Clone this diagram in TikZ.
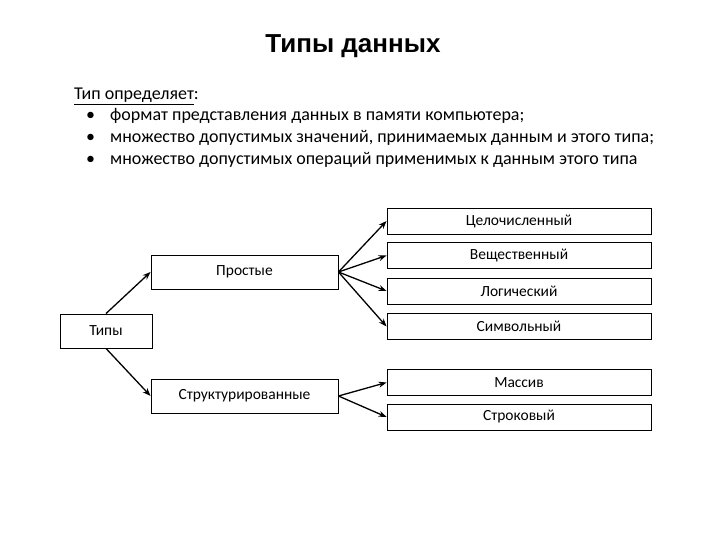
\documentclass[tikz,border=0pt]{standalone}
\usepackage{fontspec}
\setmainfont{Carlito}
\newfontfamily\titlefont{Liberation Sans}
\usetikzlibrary{arrows.meta}
\begin{document}
\begin{tikzpicture}[x=1pt,y=-1pt,
  box/.style={draw,line width=0.9pt,inner sep=0pt,font=\fontsize{15.5}{18}\selectfont},
  conn/.style={line width=1.3pt,-{Stealth[length=8pt,width=6pt]}},
  txt/.style={anchor=base west,inner sep=0pt,font=\fontsize{18}{21}\selectfont}]
\useasboundingbox (0,0) rectangle (720,540);
\node[inner sep=0pt,font=\titlefont\bfseries\fontsize{26}{30}\selectfont] (title) at (353,46) {Типы данных};
\node[txt] (l0) at (74,100) {\underline{Тип определяет}:};
\node[txt] (b1) at (86,121) {•};
\node[txt] (l1) at (110,121) {формат представления данных в памяти компьютера;};
\node[txt] (b2) at (86,143) {•};
\node[txt] (l2) at (110,143) {множество допустимых значений, принимаемых данным и этого типа;};
\node[txt] (b3) at (86,165) {•};
\node[txt] (l3) at (110,165) {множество допустимых операций применимых к данным этого типа};
% boxes
\node[box,minimum width=92pt,minimum height=34pt] (tipy) at (106,331) {Типы};
\node[box,minimum width=187pt,minimum height=34pt] (prost) at (244.5,272) {Простые};
\node[box,minimum width=187pt,minimum height=34pt] (struct) at (244.5,396) {Структурированные};
\node[box,minimum width=264pt,minimum height=26pt] (cel) at (519,221) {Целочисленный};
\node[box,minimum width=264pt,minimum height=26pt] (vesh) at (519,255.5) {Вещественный};
\node[box,minimum width=264pt,minimum height=26pt] (log) at (519,291) {Логический};
\node[box,minimum width=264pt,minimum height=26pt] (sim) at (519,326.5) {Символьный};
\node[box,minimum width=264pt,minimum height=26pt] (mas) at (519,382.5) {Массив};
\node[box,minimum width=264pt,minimum height=26pt] (str) at (519,417) {Строковый};
% connectors
\draw[conn] (tipy.north) -- (prost.west);
\draw[conn] (tipy.south) -- (struct.west);
\draw[conn] (prost.east) -- (cel.west);
\draw[conn] (prost.east) -- (vesh.west);
\draw[conn] (prost.east) -- (log.west);
\draw[conn] (prost.east) -- (sim.west);
\draw[conn] (struct.east) -- (mas.west);
\draw[conn] (struct.east) -- (str.west);
\end{tikzpicture}
\end{document}
